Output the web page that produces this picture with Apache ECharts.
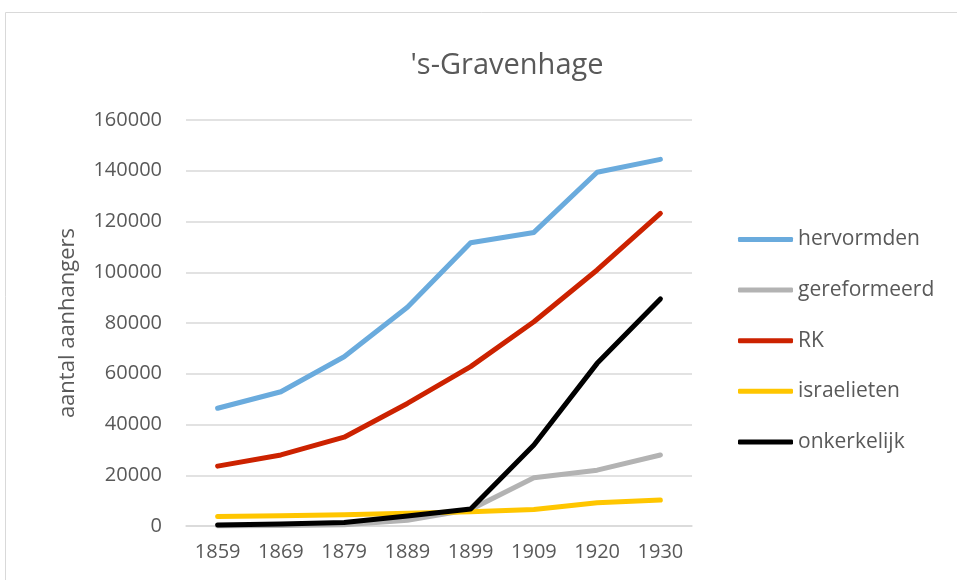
<!DOCTYPE html>
<html>
<head>
<meta charset="utf-8">
<script src="https://cdn.jsdelivr.net/npm/echarts@6/dist/echarts.min.js"></script>
<style>
  html, body { margin: 0; padding: 0; background: #fff; }
  #chart { width: 957px; height: 580px; }
</style>
</head>
<body>
<div id="chart"></div>
<script>
    const years = ['1859', '1869', '1879', '1889', '1899', '1909', '1920', '1930'];
    const hervormden = [46400, 52900, 66700, 86200, 111600, 115700, 139400, 144500];
    const gereformeerd = [0, 200, 500, 2300, 6500, 19000, 22000, 28000];
    const rk = [23600, 28000, 35000, 48300, 62800, 80500, 100900, 123200];
    const israelieten = [3700, 4000, 4400, 5000, 5600, 6500, 9200, 10200];
    const onkerkelijk = [400, 800, 1400, 3900, 6700, 31900, 64100, 89500];

    const FONT = '"Open Sans", sans-serif';
    const TEXT_COLOR = '#595959';

    function line(name, data, color) {
        return {
            name: name,
            type: 'line',
            data: data,
            symbol: 'none',
            animation: false,
            lineStyle: { width: 5, color: color, cap: 'round', join: 'round' },
            itemStyle: { color: color }
        };
    }

    const chart = echarts.init(document.getElementById('chart'));
    chart.setOption({
        backgroundColor: '#fff',
        textStyle: { fontFamily: FONT },
        title: {
            text: "'s-Gravenhage",
            left: 502,
            textAlign: 'center',
            top: 46,
            textStyle: { fontFamily: FONT, fontSize: 29, fontWeight: 'normal', color: TEXT_COLOR }
        },
        graphic: [{
            type: 'rect',
            shape: { x: 5.5, y: 12.5, width: 960, height: 600 },
            style: { fill: 'none', stroke: '#d9d9d9', lineWidth: 1 },
            silent: true
        }],
        legend: {
            orient: 'vertical',
            left: 738,
            top: 227,
            padding: 0,
            itemWidth: 55,
            itemHeight: 5,
            itemGap: 25.6,
            icon: 'roundRect',
            textStyle: { fontFamily: FONT, fontSize: 21, color: TEXT_COLOR, lineHeight: 25 }
        },
        grid: { left: 186, right: 265, top: 120, bottom: 54 },
        xAxis: {
            type: 'category',
            data: years,
            boundaryGap: true,
            axisLine: { lineStyle: { color: '#d9d9d9', width: 1.5 } },
            axisTick: { show: false },
            axisLabel: { fontFamily: FONT, fontSize: 20, color: TEXT_COLOR, margin: 16 }
        },
        yAxis: {
            type: 'value',
            min: 0,
            max: 160000,
            interval: 20000,
            name: 'aantal aanhangers',
            nameLocation: 'middle',
            nameGap: 107,
            nameTextStyle: { fontFamily: FONT, fontSize: 22, color: TEXT_COLOR },
            axisLine: { show: false },
            axisTick: { show: false },
            splitLine: { lineStyle: { color: '#d9d9d9', width: 1.5 } },
            axisLabel: {
                fontFamily: FONT, fontSize: 20, color: TEXT_COLOR, margin: 24,
                formatter: (v) => String(v)
            }
        },
        series: [
            line('hervormden', hervormden, '#6aabdd'),
            line('gereformeerd', gereformeerd, '#b3b3b3'),
            line('RK', rk, '#cc2200'),
            line('israelieten', israelieten, '#ffc600'),
            line('onkerkelijk', onkerkelijk, '#000000')
        ]
    });
</script>
</body>
</html>
